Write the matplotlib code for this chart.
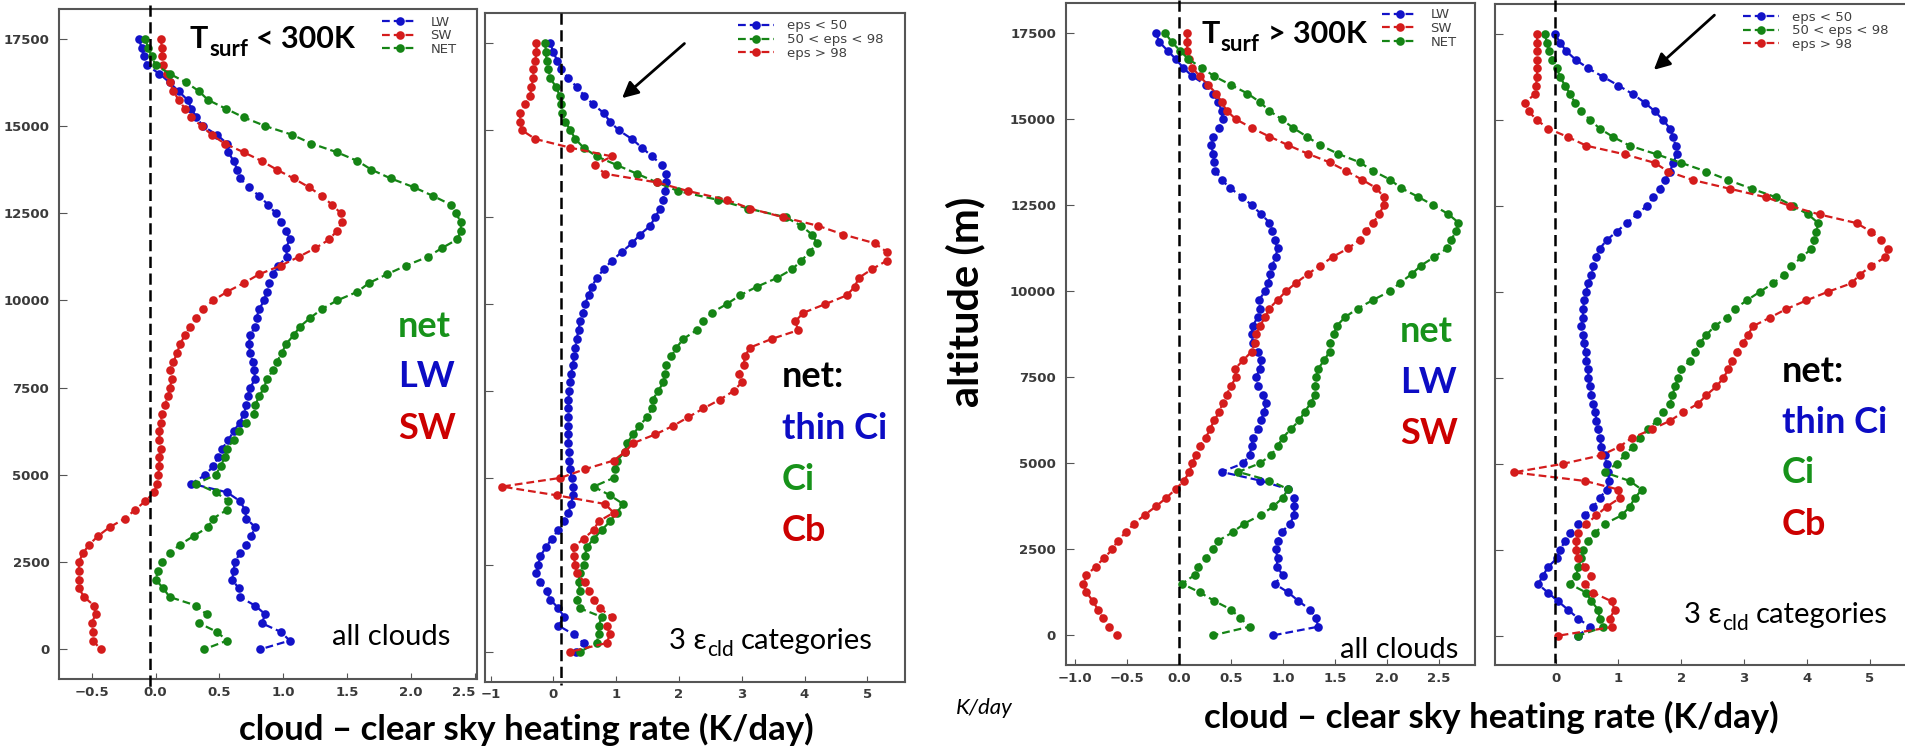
import numpy as np
import matplotlib.pyplot as plt

plt.rcParams['font.family'] = ['Lato', 'DejaVu Sans']

W, H = 1905, 752
BLUE, RED, GREEN = '#1212c8', '#d41c1c', '#158415'
TXT_BLUE, TXT_RED, TXT_GREEN = '#0c0cc4', '#cc0000', '#17921a'

# model levels (m), top down, same order as the profiles below
alt = np.arange(17500, -1, -250)

# cloud - clear sky heating rates (K/day), T_surf < 300K, all clouds
lw_cold = [-0.13, -0.11, -0.09, -0.07, 0.03, 0.11, 0.18, 0.25, 0.28, 0.32,
           0.37, 0.48, 0.56, 0.57, 0.61, 0.64, 0.66, 0.73, 0.81, 0.88,
           0.94, 0.98, 1.02, 1.05, 1.02, 1.03, 0.96, 0.92, 0.89, 0.87,
           0.85, 0.81, 0.79, 0.78, 0.74, 0.73, 0.74, 0.76, 0.77,
           0.78, 0.74, 0.72, 0.71, 0.69, 0.66, 0.61, 0.57, 0.52, 0.49,
           0.45, 0.39, 0.28, 0.56, 0.66, 0.70, 0.71, 0.78, 0.75, 0.71,
           0.66, 0.62, 0.61, 0.60, 0.65, 0.66, 0.78, 0.86, 0.83, 0.98,
           1.05, 0.82]
sw_cold = [0.04, 0.05, 0.05, 0.06, 0.09, 0.11, 0.14, 0.18, 0.23, 0.28,
           0.36, 0.44, 0.54, 0.69, 0.83, 0.95, 1.08, 1.20, 1.30, 1.38,
           1.45, 1.46, 1.42, 1.36, 1.25, 1.12, 0.98, 0.81, 0.69, 0.56,
           0.45, 0.37, 0.32, 0.27, 0.23, 0.19, 0.17, 0.14, 0.11,
           0.13, 0.11, 0.10, 0.07, 0.05, 0.04, 0.03, 0.03, 0.04, 0.03,
           0.03, 0.02, 0.01, -0.01, -0.08, -0.16, -0.24, -0.36, -0.45, -0.52,
           -0.57, -0.60, -0.60, -0.60, -0.60, -0.56, -0.48, -0.47, -0.50, -0.49,
           -0.49, -0.43]
net_cold = [-0.08, -0.06, -0.03, 0.00, 0.11, 0.24, 0.34, 0.41, 0.55, 0.69,
            0.86, 1.07, 1.22, 1.42, 1.58, 1.69, 1.84, 2.02, 2.17, 2.31,
            2.35, 2.39, 2.39, 2.36, 2.24, 2.13, 1.96, 1.81, 1.67, 1.58,
            1.42, 1.30, 1.21, 1.13, 1.08, 1.02, 0.99, 0.95, 0.92,
            0.87, 0.85, 0.81, 0.78, 0.77, 0.71, 0.65, 0.61, 0.56, 0.54,
            0.51, 0.47, 0.32, 0.47, 0.57, 0.56, 0.45, 0.41, 0.30, 0.19,
            0.11, 0.05, 0.02, 0.00, 0.06, 0.11, 0.32, 0.40, 0.34, 0.48,
            0.56, 0.38]

# T_surf < 300K, net heating per emissivity class
thin_cold = [-0.05, 0.00, 0.06, 0.12, 0.24, 0.37, 0.49, 0.63, 0.80, 0.90,
             1.04, 1.25, 1.41, 1.57, 1.73, 1.79, 1.80, 1.78, 1.74, 1.70,
             1.62, 1.54, 1.38, 1.25, 1.09, 0.93, 0.80, 0.69, 0.61, 0.56,
             0.50, 0.47, 0.42, 0.40, 0.37, 0.35, 0.33, 0.31, 0.28,
             0.27, 0.25, 0.24, 0.24, 0.24, 0.24, 0.24, 0.24, 0.25, 0.25,
             0.27, 0.29, 0.31, 0.31, 0.28, 0.24, 0.17, 0.08, -0.03, -0.12,
             -0.21, -0.24, -0.27, -0.21, -0.11, -0.05, 0.08, 0.17, 0.08, 0.32,
             0.48, 0.36]
ci_cold = [-0.13, -0.12, -0.11, -0.08, -0.05, 0.04, 0.10, 0.12, 0.13, 0.19,
           0.27, 0.35, 0.48, 0.69, 1.01, 1.33, 1.65, 1.99, 2.62, 3.10,
           3.70, 3.95, 4.12, 4.20, 4.08, 3.95, 3.80, 3.56, 3.24, 2.97,
           2.76, 2.52, 2.39, 2.28, 2.07, 1.96, 1.88, 1.80, 1.78,
           1.75, 1.67, 1.58, 1.57, 1.49, 1.37, 1.27, 1.17, 1.14, 1.01,
           0.98, 0.96, 0.64, 0.90, 1.11, 1.01, 0.90, 0.77, 0.64, 0.53,
           0.50, 0.48, 0.42, 0.40, 0.42, 0.37, 0.42, 0.77, 0.72, 0.72,
           0.69, 0.42]
cb_cold = [-0.27, -0.27, -0.29, -0.32, -0.32, -0.35, -0.37, -0.45, -0.53, -0.53,
           -0.50, -0.29, 0.27, 0.93, 0.66, 0.82, 1.65, 2.15, 2.76, 3.13,
           3.66, 4.22, 4.62, 5.12, 5.31, 5.31, 5.07, 4.86, 4.80, 4.67,
           4.33, 3.98, 3.85, 3.90, 3.48, 3.13, 3.05, 3.03, 2.95,
           3.00, 2.87, 2.65, 2.39, 2.15, 1.91, 1.62, 1.27, 1.14, 0.96,
           0.50, 0.11, -0.82, 0.05, 0.82, 0.96, 0.72, 0.64, 0.48, 0.32,
           0.32, 0.35, 0.37, 0.50, 0.56, 0.64, 0.74, 0.93, 0.85, 0.90,
           0.85, 0.27]

# T_surf > 300K, all clouds
lw_warm = [-0.22, -0.19, -0.11, -0.03, 0.04, 0.13, 0.26, 0.33, 0.38, 0.41,
           0.42, 0.39, 0.33, 0.31, 0.33, 0.34, 0.35, 0.41, 0.49, 0.61,
           0.70, 0.79, 0.87, 0.90, 0.92, 0.95, 0.93, 0.90, 0.88, 0.86,
           0.83, 0.77, 0.78, 0.76, 0.71, 0.70, 0.71, 0.76, 0.79,
           0.78, 0.74, 0.76, 0.81, 0.84, 0.82, 0.79, 0.76, 0.71, 0.70,
           0.68, 0.62, 0.41, 0.78, 1.05, 1.11, 1.11, 1.11, 1.07, 0.99,
           0.95, 0.93, 0.95, 0.94, 1.00, 0.92, 1.05, 1.15, 1.26, 1.32,
           1.34, 0.91]
sw_warm = [0.08, 0.08, 0.08, 0.10, 0.13, 0.20, 0.28, 0.36, 0.41, 0.46,
           0.55, 0.70, 0.87, 1.05, 1.24, 1.45, 1.61, 1.76, 1.90, 1.97,
           1.97, 1.93, 1.87, 1.80, 1.74, 1.63, 1.48, 1.36, 1.24, 1.13,
           1.03, 0.95, 0.87, 0.83, 0.78, 0.74, 0.73, 0.70, 0.62,
           0.54, 0.55, 0.50, 0.46, 0.42, 0.39, 0.34, 0.30, 0.26, 0.20,
           0.16, 0.13, 0.10, 0.05, -0.03, -0.12, -0.22, -0.33, -0.43, -0.51,
           -0.59, -0.64, -0.72, -0.80, -0.89, -0.92, -0.89, -0.83, -0.78, -0.73,
           -0.67, -0.60]
net_warm = [-0.13, -0.07, 0.01, 0.09, 0.22, 0.34, 0.50, 0.66, 0.78, 0.87,
            0.99, 1.10, 1.23, 1.36, 1.53, 1.74, 1.87, 2.03, 2.14, 2.30,
            2.45, 2.59, 2.69, 2.67, 2.62, 2.58, 2.46, 2.33, 2.24, 2.13,
            2.03, 1.87, 1.72, 1.60, 1.52, 1.49, 1.45, 1.45, 1.40,
            1.34, 1.32, 1.31, 1.31, 1.27, 1.21, 1.16, 1.08, 1.00, 0.95,
            0.89, 0.78, 0.57, 0.87, 1.05, 1.00, 0.91, 0.79, 0.63, 0.52,
            0.38, 0.33, 0.26, 0.18, 0.15, 0.03, 0.20, 0.34, 0.50, 0.59,
            0.68, 0.33]

# T_surf > 300K, net heating per emissivity class
thin_warm = [-0.01, 0.07, 0.17, 0.32, 0.52, 0.76, 1.00, 1.23, 1.42, 1.58,
             1.71, 1.82, 1.87, 1.91, 1.93, 1.87, 1.82, 1.74, 1.66, 1.55,
             1.45, 1.29, 1.13, 0.97, 0.81, 0.70, 0.64, 0.60, 0.57, 0.52,
             0.48, 0.45, 0.44, 0.43, 0.41, 0.43, 0.45, 0.48, 0.49,
             0.52, 0.52, 0.55, 0.57, 0.60, 0.63, 0.65, 0.68, 0.70, 0.73,
             0.78, 0.81, 0.84, 0.85, 0.81, 0.70, 0.60, 0.47, 0.36, 0.23,
             0.15, 0.07, 0.02, -0.12, -0.20, -0.28, -0.12, 0.04, 0.20, 0.36,
             0.55, 0.35]
ci_warm = [-0.17, -0.14, -0.10, -0.05, 0.02, 0.07, 0.15, 0.23, 0.31, 0.41,
           0.55, 0.70, 0.92, 1.18, 1.61, 2.00, 2.40, 2.75, 3.12, 3.51,
           3.78, 4.02, 4.18, 4.15, 4.12, 4.07, 3.91, 3.75, 3.64, 3.46,
           3.25, 3.04, 2.85, 2.72, 2.53, 2.40, 2.29, 2.22, 2.14,
           2.00, 1.95, 1.90, 1.86, 1.82, 1.71, 1.61, 1.47, 1.34, 1.23,
           1.10, 0.97, 0.78, 1.18, 1.37, 1.26, 1.18, 1.05, 0.78, 0.63,
           0.52, 0.44, 0.41, 0.36, 0.33, 0.23, 0.49, 0.57, 0.68, 0.70,
           0.76, 0.36]
cb_warm = [-0.30, -0.29, -0.29, -0.29, -0.29, -0.30, -0.31, -0.33, -0.49, -0.43,
           -0.30, -0.12, 0.20, 0.49, 1.10, 1.58, 1.79, 2.19, 2.77, 3.35,
           3.73, 4.20, 4.79, 5.02, 5.18, 5.29, 5.24, 5.02, 4.84, 4.71,
           4.33, 3.99, 3.67, 3.41, 3.14, 3.06, 2.98, 2.88, 2.80,
           2.75, 2.67, 2.56, 2.40, 2.27, 2.03, 1.82, 1.53, 1.21, 1.02,
           0.73, 0.12, -0.67, 0.47, 1.00, 1.02, 0.81, 0.65, 0.49, 0.36,
           0.33, 0.33, 0.36, 0.47, 0.57, 0.47, 0.60, 0.89, 0.94, 0.86,
           0.89, 0.04]

flux_labels = ['LW', 'SW', 'NET']
eps_labels = ['eps < 50', '50 < eps < 98', 'eps > 98']
alt_ticks = [0, 2500, 5000, 7500, 10000, 12500, 15000, 17500]


def fxy(px, py):
    return px / W, 1 - py / H


def add_panel(left, top, right, bottom):
    return fig.add_axes([left / W, 1 - bottom / H, (right - left) / W, (bottom - top) / H])


def profiles(ax, series, labels, colors):
    for vals, lab, col in zip(series, labels, colors):
        ax.plot(vals, alt, ls=(0, (3.5, 1.8)), lw=1.6, color=col, marker='o',
                ms=6.2, mew=0, label=lab)


def style(ax, xticks, ylabels):
    for sp in ax.spines.values():
        sp.set_color('#555555')
        sp.set_linewidth(1.5)
    ax.set_xticks(xticks)
    ax.set_yticks(alt_ticks)
    ax.tick_params(direction='in', color='#555555', labelsize=9.5,
                   labelcolor='#3a3a3a', labelfontfamily='DejaVu Sans')
    ax.tick_params(axis='x', length=4, pad=4.5)
    ax.tick_params(axis='y', length=6, pad=7, labelleft=ylabels)
    for lab in ax.get_xticklabels() + ax.get_yticklabels():
        lab.set_fontweight('bold')


def legend(ax, px, py):
    ax.legend(loc='upper left', bbox_to_anchor=fxy(px, py), bbox_transform=fig.transFigure,
              frameon=False, prop={'family': 'DejaVu Sans', 'size': 9.5},
              labelcolor='#404040', handlelength=2.7, handletextpad=1.0,
              labelspacing=0.05, borderpad=0, borderaxespad=0, numpoints=1)


def zero_line(ax, x, y0, y1):
    ax.plot([x, x], [y0, y1], color='k', lw=1.8, ls=(0, (4.5, 2.2)), clip_on=False, zorder=5)


def tsurf(ax, px, py, rel):
    t = ax.annotate('T', xy=fxy(px, py), xycoords='figure fraction',
                    fontsize=22, fontweight='bold', va='baseline')
    s = ax.annotate('surf', xy=(1, 0), xycoords=t, xytext=(0.5, -4.9),
                    textcoords='offset points', fontsize=16, fontweight='bold', va='bottom')
    ax.annotate(rel + ' 300K', xy=(1, 0), xycoords=(s, t), xytext=(6, 0),
                textcoords='offset points', fontsize=22, fontweight='bold', va='bottom')


def eps_note(ax, px, py):
    t = ax.annotate('3 ε', xy=fxy(px, py), xycoords='figure fraction',
                    fontsize=21, va='baseline')
    c = ax.annotate('cld', xy=(1, 0), xycoords=t, xytext=(0.5, -4.4),
                    textcoords='offset points', fontsize=15, va='bottom')
    ax.annotate('categories', xy=(1, 0), xycoords=(c, t), xytext=(5, 0),
                textcoords='offset points', fontsize=21, va='bottom')


def stack(px, rows):
    for py, label, col in rows:
        fig.text(*fxy(px, py), label, fontsize=26, fontweight='bold', color=col, va='baseline')


fig = plt.figure(figsize=(W / 100, H / 100), dpi=100)

# T_surf < 300K, LW / SW / net
ax1 = add_panel(59, 9, 477, 679.3)
profiles(ax1, [lw_cold, sw_cold, net_cold], flux_labels, [BLUE, RED, GREEN])
style(ax1, [-0.5, 0.0, 0.5, 1.0, 1.5, 2.0, 2.5], True)
ax1.set_xlim(-0.756, 2.516)
ax1.set_ylim(-860, 18357)
legend(ax1, 381.7, 15.5)
zero_line(ax1, -0.04, 18472, -1167)
tsurf(ax1, 190, 48.3, '<')
fig.text(*fxy(331.7, 645), 'all clouds', fontsize=21, va='baseline')
stack(398, [(336.5, 'net', TXT_GREEN), (387.3, 'LW', TXT_BLUE), (439, 'SW', TXT_RED)])

# the next panel sits right against this one: keep its last tick label clear of it
ax1.get_xticklabels()[-1].set_horizontalalignment('right')

# T_surf < 300K, emissivity classes
ax2 = add_panel(485, 13.3, 905, 681.7)
profiles(ax2, [thin_cold, ci_cold, cb_cold], eps_labels, [BLUE, GREEN, RED])
style(ax2, [-1, 0, 1, 2, 3, 4, 5], False)
ax2.set_xlim(-1.09, 5.6)
ax2.set_ylim(-863, 18366)
legend(ax2, 738, 19.5)
zero_line(ax2, 0.12, 18366, -958)
ax2.annotate('', xy=(1.06, 15872), xytext=(2.12, 17549),
             arrowprops=dict(arrowstyle='-|>', color='k', lw=2, mutation_scale=24))
eps_note(ax2, 669, 649)
stack(782, [(387, 'net:', 'black'), (439.3, 'thin Ci', TXT_BLUE),
            (490, 'Ci', TXT_GREEN), (540.7, 'Cb', TXT_RED)])

# T_surf > 300K, LW / SW / net
ax3 = add_panel(1065.7, 2.7, 1475, 665.3)
profiles(ax3, [lw_warm, sw_warm, net_warm], flux_labels, [BLUE, RED, GREEN])
style(ax3, [-1.0, -0.5, 0.0, 0.5, 1.0, 1.5, 2.0, 2.5], True)
ax3.set_xlim(-1.09, 2.85)
ax3.set_ylim(-872, 18390)
legend(ax3, 1381.7, 8.2)
zero_line(ax3, 0.0, 18468, -922)
tsurf(ax3, 1201.7, 43.3, '>')
fig.text(*fxy(1340, 658.3), 'all clouds', fontsize=21, va='baseline')
stack(1400, [(341.7, 'net', TXT_GREEN), (393.3, 'LW', TXT_BLUE), (444, 'SW', TXT_RED)])

# T_surf > 300K, emissivity classes
ax4 = add_panel(1495, 4, 1910, 665.3)
profiles(ax4, [thin_warm, ci_warm, cb_warm], eps_labels, [BLUE, GREEN, RED])
style(ax4, [0, 1, 2, 3, 4, 5], False)
ax4.set_xlim(-0.965, 5.64)
ax4.set_ylim(-861, 18372)
legend(ax4, 1743, 10.5)
zero_line(ax4, -0.01, 18491, -794)
ax4.annotate('', xy=(1.53, 16403), xytext=(2.56, 18102), annotation_clip=False,
             arrowprops=dict(arrowstyle='-|>', color='k', lw=2, mutation_scale=24))
eps_note(ax4, 1684, 623.3)
stack(1781.7, [(382, 'net:', 'black'), (433, 'thin Ci', TXT_BLUE),
               (483.3, 'Ci', TXT_GREEN), (535, 'Cb', TXT_RED)])

# shared axis titles
fig.text(*fxy(526, 740), 'cloud – clear sky heating rate (K/day)', fontsize=25,
         fontweight='bold', ha='center', va='baseline')
fig.text(*fxy(1491.7, 728), 'cloud – clear sky heating rate (K/day)', fontsize=25,
         fontweight='bold', ha='center', va='baseline')
fig.text(*fxy(965, 302), 'altitude (m)', fontsize=30, fontweight='bold',
         rotation=90, ha='center', va='center')
fig.text(*fxy(956, 708), 'K/day', fontsize=16, style='italic', va='center')

fig.savefig('out.png', dpi=100)
